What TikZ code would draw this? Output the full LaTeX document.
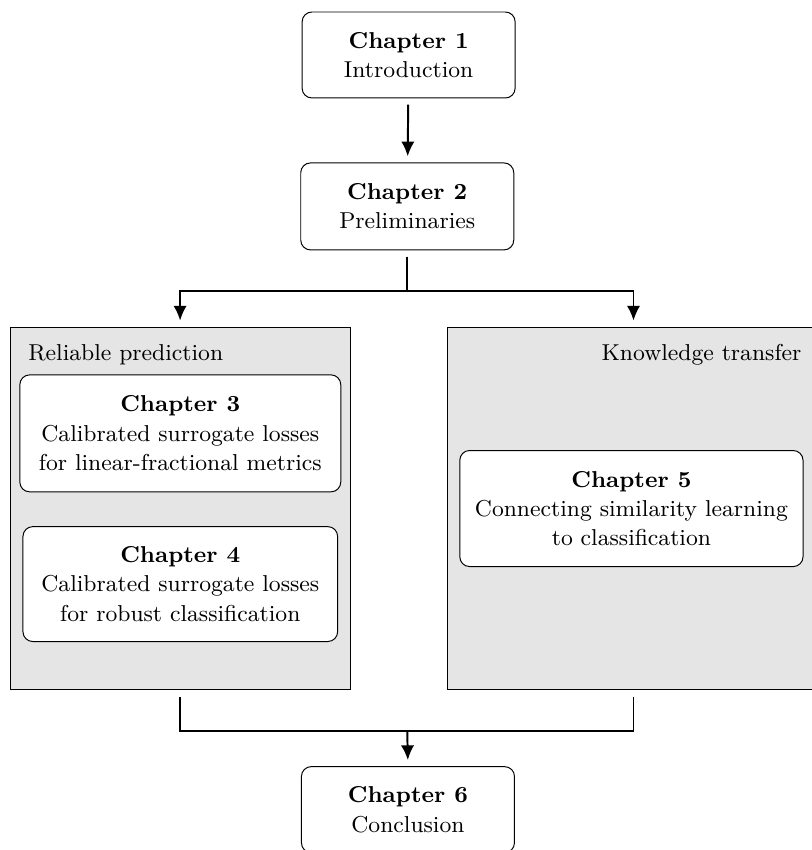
\documentclass[tikz,border=0pt]{standalone}
\usetikzlibrary{arrows.meta}
\begin{document}
\begin{tikzpicture}[
        every node/.style={font=\fontsize{9.4pt}{12pt}\selectfont},
        chapter/.style={draw, rounded corners=4pt, fill=white, align=center},
        group/.style={draw, fill=gray!20, minimum height=5.21cm},
        flow/.style={thick, -{Latex[length=6pt,width=5.4pt]}, shorten <=2.5pt, shorten >=2.5pt},
        branch/.style={thick, shorten <=2.5pt}
    ]
    \useasboundingbox (0,0) rectangle (11.65,-12.21);

    % Draw Group Boxes
    \node[group, minimum width=4.886cm] (left) at (2.587,-7.305) {};
    \node[group, minimum width=5.34cm] (right) at (9.10,-7.305) {};

    % Group Labels
    \node[anchor=west, inner sep=0pt] (reliable) at (0.40,-5.10) {Reliable prediction};
    \node[anchor=east, inner sep=0pt] (transfer) at (11.52,-5.10) {Knowledge transfer};

    % Draw Chapters
    \node[chapter, minimum width=3.06cm, minimum height=1.235cm] (ch1) at (5.87,-0.79)
        {\textbf{Chapter 1}\\Introduction};
    \node[chapter, minimum width=3.06cm, minimum height=1.25cm] (ch2) at (5.85,-2.965)
        {\textbf{Chapter 2}\\Preliminaries};
    \node[chapter, minimum width=4.61cm, minimum height=1.68cm] (ch3) at (2.59,-6.225)
        {\textbf{Chapter 3}\\Calibrated surrogate losses\\for linear-fractional metrics};
    \node[chapter, minimum width=4.52cm, minimum height=1.65cm] (ch4) at (2.59,-8.39)
        {\textbf{Chapter 4}\\Calibrated surrogate losses\\for robust classification};
    \node[chapter, minimum width=4.93cm, minimum height=1.667cm] (ch5) at (9.07,-7.305)
        {\textbf{Chapter 5}\\Connecting similarity learning\\to classification};
    \node[chapter, minimum width=3.06cm, minimum height=1.235cm] (ch6) at (5.86,-11.63)
        {\textbf{Chapter 6}\\Conclusion};

    % Split and Join Points
    \coordinate (split) at (5.85,-4.175);
    \coordinate (join) at (5.85,-10.497);

    % Draw Arrows
    \draw[flow] (ch1) -- (ch2);
    \draw[flow] (ch2.south) -- (split) -| (left.north);
    \draw[flow] (ch2.south) -- (split) -| (right.north);
    \draw[branch] (left.south) |- (join);
    \draw[branch] (right.south) |- (join);
    \draw[flow, shorten <=0pt] (join) -- (ch6.north);
\end{tikzpicture}
\end{document}
